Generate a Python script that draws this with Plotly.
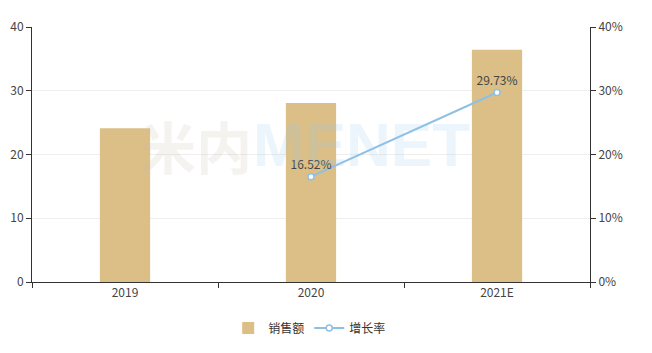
import plotly.graph_objects as go

categories = ["2019", "2020", "2021E"]
sales = [24.1, 28.08, 36.43]
growth_cats = ["2020", "2021E"]
growth = [16.52, 29.73]
y_ticks = [0, 10, 20, 30, 40]
y2_tick_labels = ["0%", "10%", "20%", "30%", "40%"]

font = "Noto Sans CJK SC, Microsoft YaHei, sans-serif"

fig = go.Figure()
fig.add_trace(go.Bar(
    x=categories, y=sales, name="销售额",
    marker=dict(color="#dbbf86", line=dict(width=0)),
    width=0.27,
))
fig.add_trace(go.Scatter(
    x=growth_cats, y=growth, name="增长率", yaxis="y2",
    mode="lines+markers+text",
    line=dict(color="#8ec0e6", width=2),
    marker=dict(symbol="circle", size=6, color="white", line=dict(color="#8ec0e6", width=1.5)),
    text=[f"{v:.2f}%" for v in growth],
    textposition="top center",
    textfont=dict(size=12, color="#444", family=font),
))

# faint watermark
fig.add_annotation(x=0.5, y=0.54, xref="paper", yref="paper", showarrow=False,
                   text="<b>米内</b>", font=dict(size=56, color="rgba(200,190,170,0.18)", family=font),
                   xshift=-115)
fig.add_annotation(x=0.5, y=0.54, xref="paper", yref="paper", showarrow=False,
                   text="<b>MENET</b>", font=dict(size=62, color="rgba(150,200,240,0.18)", family="Liberation Sans"),
                   xshift=50)

fig.update_layout(
    width=652, height=353,
    margin=dict(l=32, r=62, t=27, b=71, autoexpand=False),
    plot_bgcolor="white", paper_bgcolor="white",
    font=dict(family=font, size=12, color="#444"),
    showlegend=True,
    legend=dict(orientation="h", x=0.475, xanchor="center", xref="container",
                y=1 - 328 / 353, yanchor="middle", yref="container",
                font=dict(size=12, color="#333"), itemwidth=30),
    xaxis=dict(type="category", showline=True, linecolor="#333", linewidth=1,
               ticks="outside", tickson="boundaries", ticklen=5, tickcolor="#333",
               showgrid=False, tickfont=dict(size=12, color="#444")),
    yaxis=dict(range=[0, 40], tickvals=y_ticks, showline=True, linecolor="#333", linewidth=1,
               ticks="outside", ticklen=5, tickcolor="#333",
               showgrid=True, gridcolor="#eeeeee", zeroline=False,
               tickfont=dict(size=12, color="#444")),
    yaxis2=dict(range=[0, 40], tickvals=y_ticks, ticktext=y2_tick_labels, overlaying="y", side="right",
                showline=True, linecolor="#333", linewidth=1,
                ticks="outside", ticklen=5, tickcolor="#333",
                showgrid=False, zeroline=False, tickfont=dict(size=12, color="#444")),
    bargap=0.73,
)

fig.write_html("out.html")
